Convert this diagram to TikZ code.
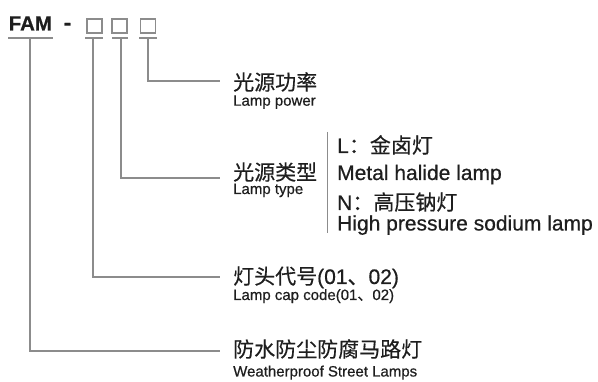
\documentclass[tikz,border=0pt]{standalone}
\usepackage{fontspec}
\setmainfont{Liberation Sans}[FakeBold=0.6]
\newfontfamily\cjk{Noto Sans CJK SC}[FakeBold=0.4]
\definecolor{linegray}{HTML}{8C8C8C}
\definecolor{txt}{HTML}{1E1E1E}
\begin{document}
\begin{tikzpicture}[x=1pt,y=-1pt,
  conn/.style={draw=linegray,line width=1.1pt},
  bx/.style={draw=linegray,line width=1.1pt,minimum width=15pt,minimum height=14pt,inner sep=0pt},
  big/.style={inner sep=0pt,anchor=base west,text=txt,font=\fontsize{21}{24}\selectfont},
  small/.style={inner sep=0pt,anchor=base west,text=txt,font=\fontsize{15}{17}\selectfont},
]
\useasboundingbox (0,0) rectangle (598,382);
% header
\node[inner sep=0pt,anchor=base west,text=txt,font=\fontsize{20.5}{23}\selectfont\bfseries] (fam) at (8.5,30.5) {FAM};
\node[inner sep=0pt,text=txt,font=\fontsize{22}{23}\selectfont\bfseries] (dash) at (67.5,26.5) {-};
\node[bx] (b1) at (94.5,26) {};
\node[bx] (b2) at (119.5,26) {};
\node[bx] (b3) at (148,26) {};
% underlines
\coordinate (u0a) at (8,38); \coordinate (u0b) at (53,38);
\coordinate (u1a) at (85,38); \coordinate (u1b) at (103,38);
\coordinate (u2a) at (112,38); \coordinate (u2b) at (128,38);
\coordinate (u3a) at (139,38); \coordinate (u3b) at (157,38);
\draw[conn] (u0a) -- (u0b);
\draw[conn] (u1a) -- (u1b);
\draw[conn] (u2a) -- (u2b);
\draw[conn] (u3a) -- (u3b);
% labels
\node[big] (pw) at (233,90) {\cjk 光源功率};
\node[small] (pwe) at (233,105.7) {Lamp power};
\node[big] (ty) at (233,180) {\cjk 光源类型};
\node[small] (tye) at (233,194) {Lamp type};
\node[big] (cap) at (233,284) {{\cjk 灯头代号}(01{\cjk 、}02)};
\node[small] (cape) at (233,300) {Lamp cap code(01{\cjk 、}02)};
\node[big] (wp) at (233,357) {\cjk 防水防尘防腐马路灯};
\node[small] (wpe) at (233,376.5) {Weatherproof Street Lamps};
% type options
\node[big] (l1) at (337,153) {L{\cjk ：金卤灯}};
\node[big] (l2) at (337,180) {Metal halide lamp};
\node[big] (n1) at (337,210) {N{\cjk ：高压钠灯}};
\node[big] (n2) at (337,230.5) {High pressure sodium lamp};
\coordinate (sepa) at (327,132); \coordinate (sepb) at (327,233);
\draw[conn,line width=0.8pt] (sepa) -- (sepb);
% connector end points
\coordinate (e3) at (220,81);
\coordinate (e2) at (220,178);
\coordinate (e1) at (220,277);
\coordinate (e0) at (220,351);
\draw[conn] (u3a -| b3) |- (e3);
\draw[conn] (121,38) |- (e2);
\draw[conn] (93,38) |- (e1);
\draw[conn] (30,38) |- (e0);
\end{tikzpicture}
\end{document}
